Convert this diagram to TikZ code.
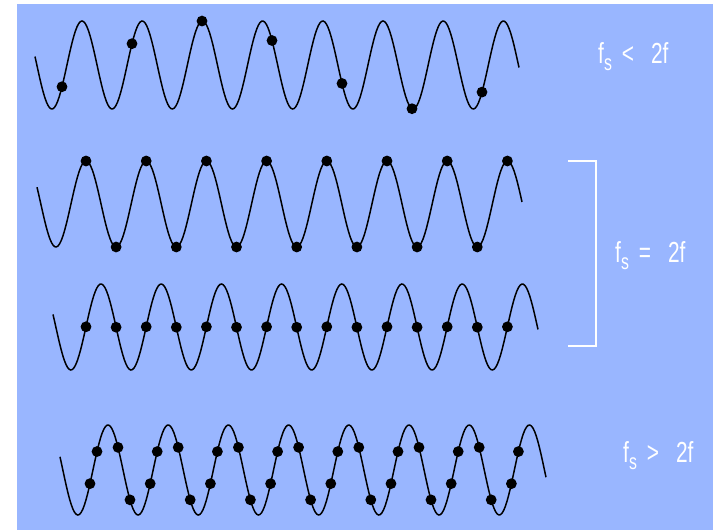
\documentclass[tikz,border=0pt]{standalone}
\usepackage{fontspec}
\newfontfamily\lblfont[FakeStretch=0.72]{Liberation Sans}
\definecolor{panelblue}{RGB}{153,182,255}
\newcommand{\fsrel}[1]{{\lblfont\fontsize{29}{31}\selectfont f\raisebox{-7pt}{\fontsize{22}{22}\selectfont s}\hspace{10pt}#1\hspace{17pt}2f}}

\begin{document}
\begin{tikzpicture}[x=1pt,y=-1pt,
    wave/.style={line width=1.5pt,black},
    sample/.style={fill=black},
    ratelabel/.style={white,anchor=base west,inner sep=0pt},
    declare function={sig(\t,\c,\a,\p)=\c-\a*cos(5.98*(\t-\p));}]
        % Background
        \useasboundingbox (0,0) rectangle (723,530);
        \fill[white] (0,0) rectangle (723,530);
        \fill[panelblue] (17,4) rectangle (713,530);

        % Wave 1 : fs < 2f
        \draw[wave] plot[domain=35:519,samples=300] (\x,{sig(\x,65,44,82)});
        \foreach \s in {62,132,...,482}
          \fill[sample] (\s,{sig(\s,65,44,82)}) circle (5.4pt);

        % Wave 2 : fs = 2f, samples on peaks
        \draw[wave] plot[domain=37:522,samples=300] (\x,{sig(\x,204,43,86)});
        \foreach \k in {0,...,14}
          \fill[sample] ({86+30.1*\k},{sig(86+30.1*\k,204,43,86)}) circle (5.4pt);

        % Wave 3 : fs = 2f, samples on zeros
        \draw[wave] plot[domain=53:538,samples=300] (\x,{sig(\x,327,43,101)});
        \foreach \k in {0,...,14}
          \fill[sample] ({86+30.1*\k},{sig(86+30.1*\k,327,43,101)}) circle (5.4pt);

        % Wave 4 : fs > 2f
        \draw[wave] plot[domain=60:546,samples=300] (\x,{sig(\x,470,45,108)});
        \foreach \k in {0,...,7}
          \foreach \d in {-18,-11}
            \fill[sample] ({108+60.2*\k+\d},{sig(108+60.2*\k+\d,470,45,108)}) circle (5.4pt);
        \foreach \k in {0,...,6}
          \foreach \d in {10,22}
            \fill[sample] ({108+60.2*\k+\d},{sig(108+60.2*\k+\d,470,45,108)}) circle (5.4pt);

        % Bracket
        \coordinate (brTop) at (596,161);
        \coordinate (brBot) at (596,346);
        \draw[white,line width=1.5pt] (568,161) -- (brTop) -- (brBot) -- (568,346);

        % Labels
        \node[ratelabel] (lblLess) at (598,63) {\fsrel{<}};
        \node[ratelabel] (lblEq) at (615,262) {\fsrel{=}};
        \node[ratelabel] (lblMore) at (623,462) {\fsrel{>}};
      \end{tikzpicture}
\end{document}
